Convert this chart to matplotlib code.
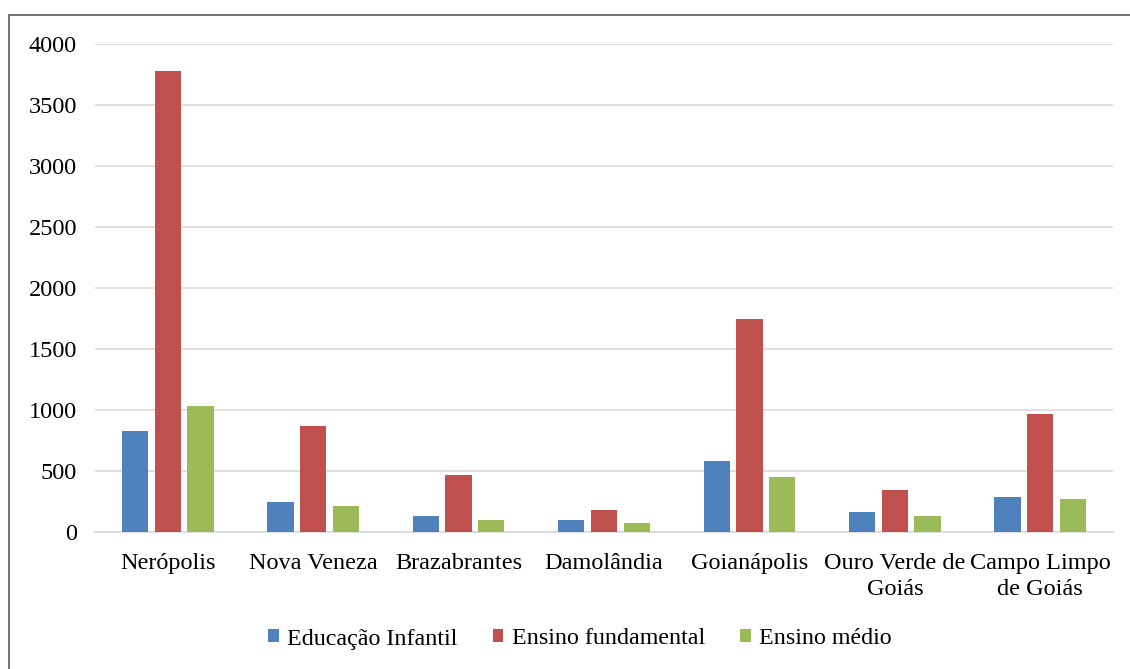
import numpy as np
import matplotlib.pyplot as plt
from matplotlib.patches import Rectangle

plt.rcParams['font.family'] = ['Liberation Serif', 'DejaVu Serif']

cidades = ["Nerópolis", "Nova Veneza", "Brazabrantes", "Damolândia",
           "Goianápolis", "Ouro Verde de\nGoiás", "Campo Limpo\nde Goiás"]
infantil = [830, 246, 131, 98, 584, 164, 284]
fundamental = [3781, 871, 470, 183, 1746, 347, 967]
medio = [1030, 210, 101, 71, 451, 131, 270]

series = ["Educação Infantil", "Ensino fundamental", "Ensino médio"]
cores = ["#4F81BD", "#C0504D", "#9BBB59"]

fig = plt.figure(figsize=(11.3, 6.69), dpi=100)
ax = fig.add_axes([95 / 1130, 1 - 532 / 669, (1113 - 95) / 1130, (532 - 44) / 669])

x = np.arange(len(cidades))
w = 0.18
passo = 0.225
for i, (vals, nome, cor) in enumerate(zip([infantil, fundamental, medio], series, cores)):
    ax.bar(x + (i - 1) * passo, vals, width=w, color=cor, label=nome, zorder=3)

ax.set_xlim(-0.5, len(cidades) - 0.5)
ax.set_ylim(0, 4000)
ax.set_yticks(range(0, 4001, 500))
ax.set_xticks(x)
ax.set_xticklabels(cidades, linespacing=1.3)
ax.yaxis.grid(True, color="#D9D9D9", linewidth=1.2, zorder=0)
for s in ["top", "right", "left"]:
    ax.spines[s].set_visible(False)
ax.spines["bottom"].set_color("#D9D9D9")
ax.spines["bottom"].set_linewidth(1.2)
ax.tick_params(axis="both", length=0, labelsize=17.5)
ax.tick_params(axis="x", pad=15)
ax.tick_params(axis="y", pad=13)

fig.legend(loc="center", bbox_to_anchor=(580 / 1130, 1 - 639 / 669), ncol=3,
           frameon=False, fontsize=17.3, handlelength=0.45, handleheight=0.45,
           handletextpad=0.35, columnspacing=1.45)

fig.patches.append(Rectangle((9 / 1130, -0.1), 1.1, 1.1 - 15 / 669, transform=fig.transFigure,
                             fill=False, edgecolor="#595959", linewidth=1.2))

fig.savefig("out.png", dpi=100)
